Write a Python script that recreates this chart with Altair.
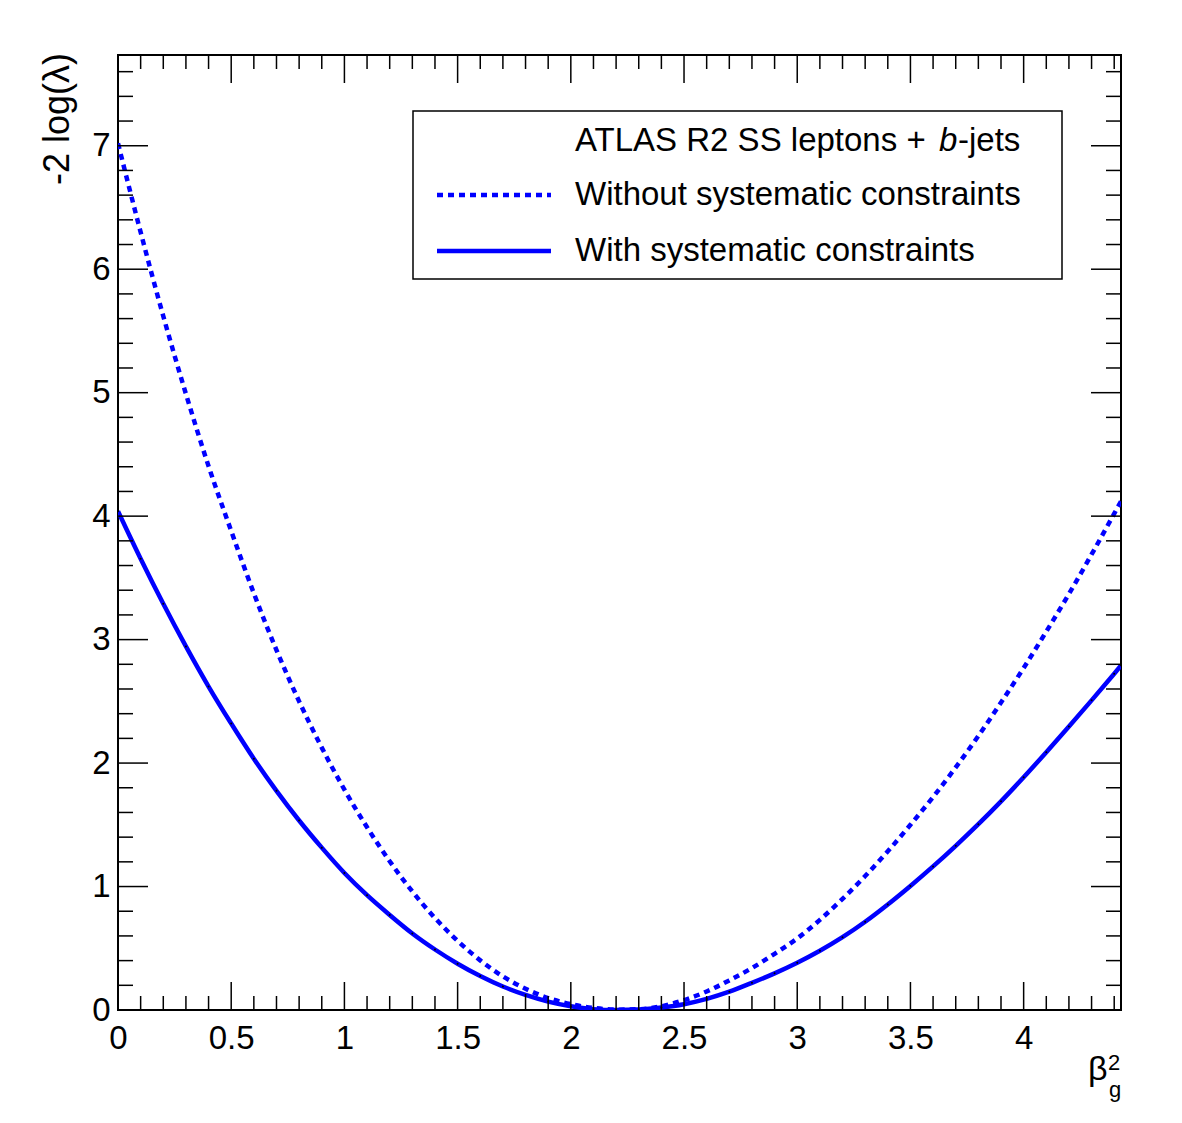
import altair as alt
import pandas as pd

# Profile likelihood scan in beta_g^2
beta_sq = [0.0, 0.1, 0.2, 0.3, 0.4, 0.5, 0.6, 0.7, 0.8, 0.9,
           1.0, 1.1, 1.2, 1.3, 1.4, 1.5, 1.6, 1.7, 1.8, 1.9,
           2.0, 2.1, 2.2, 2.3, 2.4, 2.5, 2.6, 2.7, 2.8, 2.9,
           3.0, 3.1, 3.2, 3.3, 3.4, 3.5, 3.6, 3.7, 3.8, 3.9,
           4.0, 4.1, 4.2, 4.3, 4.4, 4.43]

nll_without = [7.02, 6.30, 5.62, 4.99, 4.405, 3.88, 3.375, 2.915, 2.50, 2.125,
               1.785, 1.48, 1.205, 0.96, 0.745, 0.56, 0.402, 0.272, 0.172, 0.097,
               0.047, 0.017, 0.003, 0.006, 0.03, 0.08, 0.15, 0.24, 0.34, 0.455,
               0.58, 0.73, 0.90, 1.085, 1.285, 1.50, 1.725, 1.965, 2.22, 2.49,
               2.77, 3.065, 3.37, 3.69, 4.02, 4.12]

nll_with = [4.04, 3.655, 3.29, 2.945, 2.62, 2.32, 2.035, 1.775, 1.535, 1.315,
            1.11, 0.93, 0.77, 0.62, 0.49, 0.375, 0.275, 0.19, 0.122, 0.068,
            0.03, 0.007, 0.0, 0.004, 0.02, 0.047, 0.09, 0.148, 0.22, 0.297,
            0.383, 0.48, 0.59, 0.715, 0.855, 1.005, 1.163, 1.33, 1.505, 1.69,
            1.885, 2.088, 2.296, 2.508, 2.724, 2.79]

# Axis ticks
x_major = [0, 0.5, 1, 1.5, 2, 2.5, 3, 3.5, 4]
x_minor = [round(0.1 * i, 1) for i in range(45) if i % 5 != 0]
y_major = [0, 1, 2, 3, 4, 5, 6, 7]
y_minor = [round(0.2 * i, 1) for i in range(39) if i % 5 != 0]

legend_header = ["ATLAS R2 SS leptons + ", "b", "-jets"]
legend_labels = ["Without systematic constraints", "With systematic constraints"]

W, H = 1003, 955
X_MAX, Y_MAX = 4.43, 7.735
FONT = "Liberation Sans"
FS = 33
BLUE = "#0000ff"
DASH = [6, 5]

xs = alt.Scale(domain=[0, X_MAX], nice=False, zero=False)
ys = alt.Scale(domain=[0, Y_MAX], nice=False, zero=False)

df = pd.DataFrame({"b": beta_sq, "without": nll_without, "with": nll_with})

x_axis = alt.Axis(values=x_major, format="~g", ticks=False, tickSize=0, domain=False,
                  grid=False, labelFont=FONT, labelFontSize=FS, labelColor="black",
                  labelPadding=12, labelFlush=False, labelOverlap=False, title=None)
y_axis = alt.Axis(values=y_major, format="~g", ticks=False, tickSize=0, domain=False,
                  grid=False, labelFont=FONT, labelFontSize=FS, labelColor="black",
                  labelPadding=8, labelOverlap=False, title=None)

dotted = alt.Chart(df).mark_line(color=BLUE, strokeWidth=4.5, strokeDash=DASH,
                                 strokeCap="butt", interpolate="monotone",
                                 clip=True).encode(
    x=alt.X("b:Q", scale=xs, axis=x_axis),
    y=alt.Y("without:Q", scale=ys, axis=y_axis),
)
solid = alt.Chart(df).mark_line(color=BLUE, strokeWidth=4.5, interpolate="monotone",
                                clip=True).encode(
    x=alt.X("b:Q", scale=xs), y=alt.Y("with:Q", scale=ys))
pts = alt.Chart(df).mark_point(filled=True, color="black", size=4, opacity=1,
                               clip=True).encode(
    x=alt.X("b:Q", scale=xs), y=alt.Y("with:Q", scale=ys))


def xticks(vals, length):
    d = pd.DataFrame({"v": vals})
    bottom = alt.Chart(d).mark_rule(color="black", strokeWidth=1.5).encode(
        x=alt.X("v:Q", scale=xs), y=alt.value(H), y2=alt.value(H - length))
    top = alt.Chart(d).mark_rule(color="black", strokeWidth=1.5).encode(
        x=alt.X("v:Q", scale=xs), y=alt.value(0), y2=alt.value(length))
    return [bottom, top]


def yticks(vals, length):
    d = pd.DataFrame({"v": vals})
    left = alt.Chart(d).mark_rule(color="black", strokeWidth=1.5).encode(
        y=alt.Y("v:Q", scale=ys), x=alt.value(0), x2=alt.value(length))
    right = alt.Chart(d).mark_rule(color="black", strokeWidth=1.5).encode(
        y=alt.Y("v:Q", scale=ys), x=alt.value(W), x2=alt.value(W - length))
    return [left, right]


ticks = xticks(x_major, 28) + xticks(x_minor, 14) + yticks(y_major, 30) + yticks(y_minor, 15)

one = pd.DataFrame({"k": [0]})


def label(text, x, y, size=FS, **kw):
    return alt.Chart(one).mark_text(text=text, font=FONT, fontSize=size, color="black",
                                    **kw).encode(x=alt.value(x), y=alt.value(y))


# Axis titles
y_title = label("-2 log(\u03bb)", -60, -2, size=36, angle=270, align="right",
                baseline="middle")
beta = label("\u03b2", 970, 1025, size=34, align="left", baseline="alphabetic")
sup = label("2", 990, 1015, size=22, align="left", baseline="alphabetic")
sub = label("g", 991, 1042, size=22, align="left", baseline="alphabetic")

# Legend box
box = alt.Chart(one).mark_rect(fill="white", stroke="black", strokeWidth=1.5).encode(
    x=alt.value(295), x2=alt.value(944), y=alt.value(56), y2=alt.value(224))
leg_dotted = alt.Chart(one).mark_rule(color=BLUE, strokeWidth=4.5, strokeDash=DASH,
                                      strokeCap="butt").encode(
    x=alt.value(319), x2=alt.value(433), y=alt.value(140))
leg_solid = alt.Chart(one).mark_rule(color=BLUE, strokeWidth=4.5).encode(
    x=alt.value(319), x2=alt.value(433), y=alt.value(196))
hdr1 = label(legend_header[0], 457, 86, align="left", baseline="middle")
hdr2 = label(legend_header[1], 457 + 364, 86, align="left", baseline="middle",
             fontStyle="italic")
hdr3 = label(legend_header[2], 457 + 383, 86, align="left", baseline="middle")
lab1 = label(legend_labels[0], 457, 140, align="left", baseline="middle")
lab2 = label(legend_labels[1], 457, 196, align="left", baseline="middle")

chart = alt.layer(
    dotted, solid, pts, *ticks, box, leg_dotted, leg_solid,
    hdr1, hdr2, hdr3, lab1, lab2, y_title, beta, sup, sub,
).properties(
    width=W, height=H,
    autosize=alt.AutoSizeParams(type="none"),
    padding={"left": 118, "top": 55, "right": 61, "bottom": 113},
    background="white",
).configure_view(stroke="black", strokeWidth=2)

chart.save("out.html", embed_options={"renderer": "svg", "actions": False})
